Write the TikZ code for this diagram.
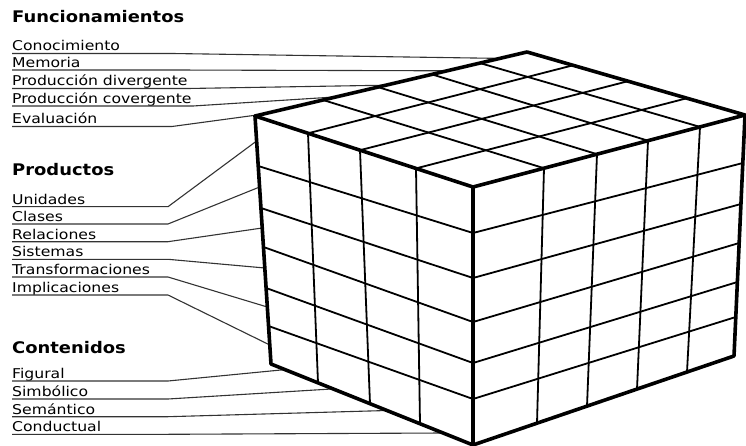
\documentclass[tikz,border=0pt]{standalone}
\usepackage{fontspec}
\newfontfamily\lblfont[FakeStretch=1.16]{DejaVu Sans}
\newfontfamily\headfont[FakeStretch=1.12]{DejaVu Sans}

\begin{document}
\begin{tikzpicture}[x=1pt, y=-1pt]
	% Styles
	\tikzstyle{heading} = [anchor=base west, inner sep=0pt, font=\headfont\fontsize{16}{19}\selectfont\bfseries]
	\tikzstyle{item} = [anchor=base west, inner sep=0pt, font=\lblfont\fontsize{13.5}{16}\selectfont]
	\tikzstyle{leader} = [draw=black!80, line width=1.1pt, line join=round]
	\tikzstyle{edge} = [line width=3.6pt, line join=round, line cap=round]
	\tikzstyle{cell} = [line width=1.8pt]

	\useasboundingbox (0,0) rectangle (746,446);

	% Cube corners
	\coordinate (L) at (255,116);
	\coordinate (B) at (527,52);
	\coordinate (R) at (745,115);
	\coordinate (F) at (473,187);
	\coordinate (LB) at (271,364);
	\coordinate (FB) at (473,445);
	\coordinate (RB) at (734,356);

	% Leader ends on the cube
	\coordinate (fe1) at (500,58.4);
	\coordinate (fe2) at (447,70.8);
	\coordinate (fe3) at (386,85.2);
	\coordinate (fe4) at (336,96.9);
	\coordinate (fe5) at (257,115);
	\coordinate (pe1) at (256.6,141);
	\coordinate (pe2) at (259.6,187);
	\coordinate (pe3) at (262.2,228);
	\coordinate (pe4) at (264.8,268);
	\coordinate (pe5) at (267.3,307);
	\coordinate (pe6) at (269.8,345);
	\coordinate (ce1) at (285,369.6);
	\coordinate (ce2) at (333,388.9);
	\coordinate (ce3) at (387,410.5);
	\coordinate (ce4) at (443,433);

	% Nodes
	\node (func) [heading] at (12,23) {Funcionamientos};
	\node (f1) [item] at (12,51) {Conocimiento};
	\node (f2) [item] at (12,67.5) {Memoria};
	\node (f3) [item] at (12,86) {Producción divergente};
	\node (f4) [item] at (12,103.5) {Producción covergente};
	\node (f5) [item] at (12,124) {Evaluación};

	\node (prod) [heading] at (12,176) {Productos};
	\node (p1) [item] at (12,204.2) {Unidades};
	\node (p2) [item] at (12,221.5) {Clases};
	\node (p3) [item] at (12,239.2) {Relaciones};
	\node (p4) [item] at (12,256.8) {Sistemas};
	\node (p5) [item] at (12,274.5) {Transformaciones};
	\node (p6) [item] at (12,292.5) {Implicaciones};

	\node (cont) [heading] at (12,353) {Contenidos};
	\node (c1) [item] at (12,378.5) {Figural};
	\node (c2) [item] at (12,396.5) {Simbólico};
	\node (c3) [item] at (12,414.2) {Semántico};
	\node (c4) [item] at (12,431.8) {Conductual};

	% Connections
	\draw [leader] ([yshift=-2.5pt]f1.base west) -- ++(160,0) -- (fe1);
	\draw [leader] ([yshift=-2.5pt]f2.base west) -- ++(160,0) -- (fe2);
	\draw [leader] ([yshift=-2.5pt]f3.base west) -- ++(176,0) -- (fe3);
	\draw [leader] ([yshift=-2.5pt]f4.base west) -- ++(181,0) -- (fe4);
	\draw [leader] ([yshift=-2.5pt]f5.base west) -- ++(160,0) -- (fe5);
	\draw [leader] ([yshift=-2.5pt]p1.base west) -- ++(156,0) -- (pe1);
	\draw [leader] ([yshift=-2.5pt]p2.base west) -- ++(156,0) -- (pe2);
	\draw [leader] ([yshift=-2.5pt]p3.base west) -- ++(156,0) -- (pe3);
	\draw [leader] ([yshift=-2.5pt]p4.base west) -- ++(156,0) -- (pe4);
	\draw [leader] ([yshift=-2.5pt]p5.base west) -- ++(156,0) -- (pe5);
	\draw [leader] ([yshift=-2.5pt]p6.base west) -- ++(156,0) -- (pe6);
	\draw [leader] ([yshift=-2.5pt]c1.base west) -- ++(156,0) -- (ce1);
	\draw [leader] ([yshift=-2.5pt]c2.base west) -- ++(156,0) -- (ce2);
	\draw [leader] ([yshift=-2.5pt]c3.base west) -- ++(156,0) -- (ce3);
	\draw [leader] ([yshift=-2.5pt]c4.base west) -- ++(156,0) -- (ce4);

	% Cube grid
	\draw [cell] (258.2,166) -- (473,233) (260.9,208) -- (473,278) (263.5,247) -- (473,322)
		(266.1,288) -- (473,363) (268.5,326) -- (473,399);
	\draw [cell] (308,133.3) -- (318,382.8) (360,150.2) -- (370,403.7) (416,168.4) -- (420,423.7);
	\draw [cell] (473,233) -- (742.8,163) (473,278) -- (740.9,204) (473,322) -- (739.2,243)
		(473,363) -- (737.4,282) (473,399) -- (735.8,317);
	\draw [cell] (544,168.2) -- (537,423.2) (597,154.2) -- (587,406.1) (648,140.7) -- (637,389.1)
		(700,126.9) -- (687,372);
	\draw [cell] (308,133.3) -- (573,65.3) (360,150.2) -- (628,81.2) (416,168.4) -- (687,98.2);
	\draw [cell] (544,168.2) -- (323,100) (597,154.2) -- (378,87.1) (648,140.7) -- (432,74.4)
		(700,126.9) -- (480,63.1);

	% Cube edges
	\draw [edge] (L) -- (B) -- (R) -- (RB) -- (FB) -- (LB) -- cycle;
	\draw [edge] (L) -- (F) -- (R);
	\draw [edge] (F) -- (FB);
\end{tikzpicture}
\end{document}
